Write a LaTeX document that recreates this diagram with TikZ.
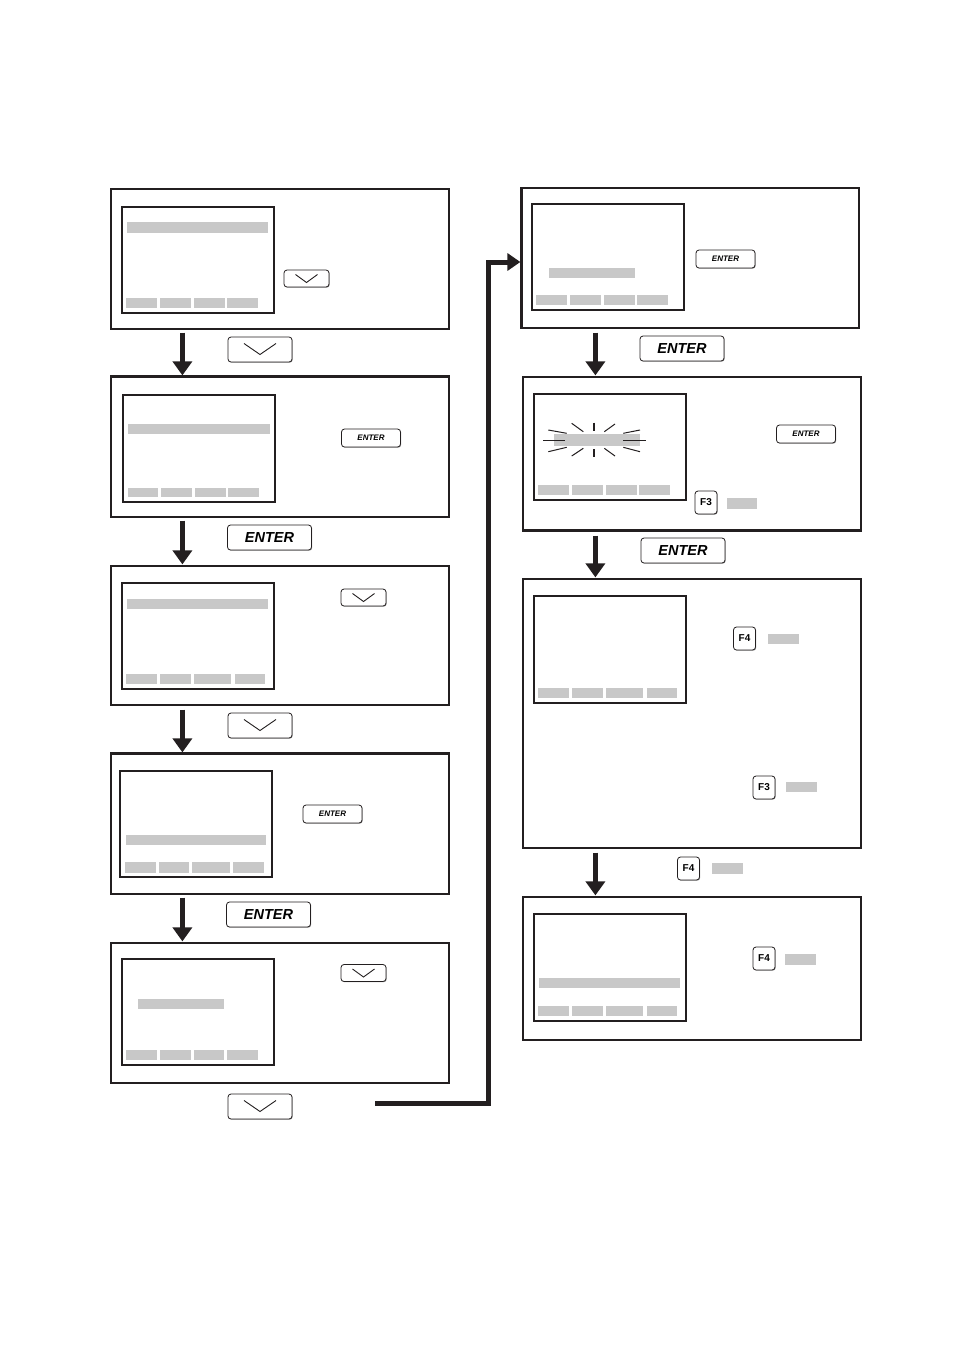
\documentclass[tikz,border=0pt]{standalone}
\usepackage{fontspec}
\setmainfont{Liberation Sans}
\usetikzlibrary{arrows.meta,shadows,fit}
\definecolor{bargray}{RGB}{200,200,200}
\definecolor{ink}{RGB}{35,31,32}
\begin{document}
\begin{tikzpicture}[x=1pt,y=-1pt,
  outer/.style={draw=ink, line width=1.2pt, inner sep=0pt, fit={#1}},
  screen/.style={draw=ink, line width=1.1pt, inner sep=0pt, fit={#1}},
  keybase/.style={draw=ink, line width=0.8pt, rounded corners=3pt, fill=white, inner sep=0pt,
    drop shadow={shadow xshift=0.7pt, shadow yshift=-0.7pt, fill=black!40, opacity=1}},
  enterL/.style={keybase, minimum width=84pt, minimum height=25pt,
    font=\fontsize{14.5}{14.5}\selectfont\bfseries\itshape},
  enterS/.style={keybase, minimum width=59pt, minimum height=18pt,
    font=\fontsize{8}{8}\selectfont\bfseries\itshape},
  downL/.style={keybase, minimum width=64pt, minimum height=25pt},
  downS/.style={keybase, minimum width=45pt, minimum height=17pt},
  fkey/.style={keybase, minimum width=22pt, minimum height=23pt,
    font=\fontsize{10}{10}\selectfont\bfseries},
  chev/.style={draw=ink, line width=0.9pt},
  flow/.style={draw=ink, line width=4.6pt, -{Triangle[width=19pt,length=14pt]}},
  bigflow/.style={draw=ink, line width=5pt, -{Triangle[width=17pt,length=13pt]}},
  thick border/.style={draw=ink, line width=2.6pt},
  ray/.style={draw=ink, line width=1pt},
]
\useasboundingbox (0,0) rectangle (954,1350);

% ---------------- left column ----------------
\node[outer={(111,189) (449,329)}] (L1) {};
\node[outer={(111,377) (449,517)}] (L2) {};
\node[outer={(111,566) (449,705)}] (L3) {};
\node[outer={(111,754) (449,894)}] (L4) {};
\node[outer={(111,943) (449,1083)}] (L5) {};
\draw[thick border] (L2.north west) -- (L2.north east);
\draw[thick border] (L4.north west) -- (L4.north east);

\node[screen={(122,207) (274,313)}] (L1s) {};
\node[screen={(123,395) (275,502)}] (L2s) {};
\node[screen={(122,583) (274,689)}] (L3s) {};
\node[screen={(120,771) (272,877)}] (L4s) {};
\node[screen={(122,959) (274,1065)}] (L5s) {};

\fill[bargray] (127,222) rectangle (268,233);
\foreach \a/\b in {126/157,160/191,194/225,227/258} \fill[bargray] (\a,298) rectangle (\b,308);
\fill[bargray] (128,424) rectangle (270,434);
\foreach \a/\b in {128/158,161/192,195/226,228/259} \fill[bargray] (\a,488) rectangle (\b,497);
\fill[bargray] (127,599) rectangle (268,609);
\foreach \a/\b in {126/157,160/191,194/231,235/265} \fill[bargray] (\a,674) rectangle (\b,684);
\fill[bargray] (126,835) rectangle (266,845);
\foreach \a/\b in {125/156,159/189,192/230,233/264} \fill[bargray] (\a,862) rectangle (\b,873);
\fill[bargray] (138,999) rectangle (224,1009);
\foreach \a/\b in {126/157,160/191,194/224,227/258} \fill[bargray] (\a,1050) rectangle (\b,1060);

% keys, left column
\node[downS] (kd1) at (306.5,278.5) {};
\node[downL] (kd2) at (260,349.5) {};
\node[enterS] (ke1) at (371,438) {ENTER};
\node[enterL] (ke2) at (269.5,537.5) {ENTER};
\node[downS] (kd3) at (363.5,597.5) {};
\node[downL] (kd4) at (260,725.5) {};
\node[enterS] (ke3) at (332.5,814) {ENTER};
\node[enterL] (ke4) at (268.5,914.5) {ENTER};
\node[downS] (kd5) at (363.5,973) {};
\node[downL] (kd6) at (260,1106.5) {};

\foreach \k in {kd1,kd3,kd5}
  \draw[chev] ([shift={(-11,-4)}]\k.center) -- ([shift={(0,4)}]\k.center) -- ([shift={(11,-4)}]\k.center);
\foreach \k in {kd2,kd4,kd6}
  \draw[chev] ([shift={(-16,-6)}]\k.center) -- ([shift={(0,5)}]\k.center) -- ([shift={(16,-6)}]\k.center);

% flow arrows, left column
\draw[flow] ([xshift=72pt,yshift=-3pt]L1.south west) -- ([xshift=72pt,yshift=1pt]L2.north west);
\draw[flow] ([xshift=72pt,yshift=-3pt]L2.south west) -- ([xshift=72pt,yshift=1pt]L3.north west);
\draw[flow] ([xshift=72pt,yshift=-4pt]L3.south west) -- ([xshift=72pt,yshift=1pt]L4.north west);
\draw[flow] ([xshift=72pt,yshift=-3pt]L4.south west) -- ([xshift=72pt,yshift=1pt]L5.north west);

% ---------------- right column ----------------
\node[outer={(522,188) (859,328)}] (R1) {};
\node[outer={(523,377) (861,530)}] (R2) {};
\node[outer={(523,579) (861,848)}] (R3) {};
\node[outer={(523,897) (861,1040)}] (R4) {};
\draw[thick border] (R1.north west) -- (R1.south west);
\draw[thick border] (R2.south west) -- (R2.south east);

\node[screen={(532,204) (684,310)}] (R1s) {};
\node[screen={(534,394) (686,500)}] (R2s) {};
\node[screen={(534,596) (686,703)}] (R3s) {};
\node[screen={(534,914) (686,1021)}] (R4s) {};

\fill[bargray] (549,268) rectangle (635,278);
\foreach \a/\b in {536/567,570/601,604/635,637/668} \fill[bargray] (\a,295) rectangle (\b,305);
\fill[bargray] (554,434) rectangle (640,446);
\foreach \a/\b in {538/569,572/603,606/637,639/670} \fill[bargray] (\a,485) rectangle (\b,495);
\foreach \a/\b in {538/569,572/603,606/643,647/677} \fill[bargray] (\a,688) rectangle (\b,698);
\fill[bargray] (539,978) rectangle (680,988);
\foreach \a/\b in {538/569,572/603,606/643,647/677} \fill[bargray] (\a,1006) rectangle (\b,1016);

% blinking rays
\draw[ray] (543.3,440) -- (565,440);
\draw[ray] (623.3,440) -- (645.7,440);
\draw[ray] (548.3,430) -- (566.7,433.3);
\draw[ray] (548.3,451.7) -- (566.7,447.3);
\draw[ray] (623.3,433.3) -- (640,430);
\draw[ray] (623.3,447.3) -- (640,451.7);
\draw[ray] (571.7,423.3) -- (583.3,431.7);
\draw[ray] (604.3,431.7) -- (615,424);
\draw[ray] (571.7,456) -- (583.3,448.3);
\draw[ray] (604.3,448.3) -- (615,456);
\draw[ray, line width=1.6pt] (594,422.7) -- (594,430.7);
\draw[ray, line width=1.6pt] (594,449.3) -- (594,457.3);

% keys, right column
\node[enterS] (ke5) at (725.5,259) {ENTER};
\node[enterL] (ke6) at (682,348.5) {ENTER};
\node[enterS] (ke7) at (806,434) {ENTER};
\node[fkey] (f1) at (706,502.5) {F3};
\fill[bargray] (727,498) rectangle (757,509);
\node[enterL] (ke8) at (683,550.5) {ENTER};
\node[fkey] (f2) at (744.5,638.5) {F4};
\fill[bargray] (768,634) rectangle (799,644);
\node[fkey] (f3) at (764,787.5) {F3};
\fill[bargray] (786,782) rectangle (817,792);
\node[fkey] (f4) at (688.5,868.5) {F4};
\fill[bargray] (712,863) rectangle (743,874);
\node[fkey] (f5) at (764,958.5) {F4};
\fill[bargray] (785,954) rectangle (816,965);

% flow arrows, right column
\draw[flow] ([xshift=74pt,yshift=-4pt]R1.south west) -- ([xshift=73pt,yshift=1pt]R2.north west);
\draw[flow] ([xshift=73pt,yshift=-5pt]R2.south west) -- ([xshift=73pt,yshift=1pt]R3.north west);
\draw[flow] ([xshift=73pt,yshift=-4pt]R3.south west) -- ([xshift=73pt,yshift=1pt]R4.north west);

% long connector from left column bottom to R1
\coordinate (cstart) at (375,1103);
\draw[bigflow] (cstart) -| ([xshift=-33pt,yshift=-4pt]R1.west) -- ([xshift=-1pt,yshift=-4pt]R1.west);
\end{tikzpicture}
\end{document}
